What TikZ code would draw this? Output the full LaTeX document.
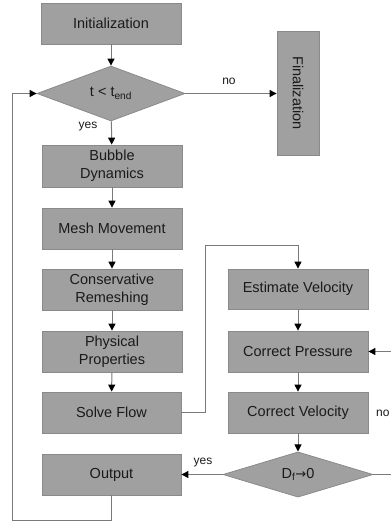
\documentclass[tikz,border=0pt]{standalone}
\usepackage{fontspec}
\setmainfont{Liberation Sans}
\newfontfamily\symf{DejaVu Sans}
\usetikzlibrary{shapes.geometric,arrows.meta}
\definecolor{boxfill}{HTML}{A0A0A0}
\definecolor{boxline}{HTML}{8A8A8A}
\definecolor{conn}{HTML}{7A7A7A}
\definecolor{txt}{HTML}{1A1A1A}
\tikzset{
  every node/.style={text=txt},
  stepbox/.style={draw=boxline, line width=0.8pt, fill=boxfill, rectangle, inner sep=0pt,
    minimum width=140pt, minimum height=41pt, align=center,
    font=\fontsize{14.5}{18}\selectfont},
  decbox/.style={draw=boxline, line width=0.8pt, fill=boxfill, diamond, inner sep=0pt,
    align=center, font=\fontsize{14.5}{18}\selectfont},
  conn/.style={draw=conn, line width=1pt},
  arr/.style={conn, -{Triangle[length=7pt,width=7pt,color=black]}},
  lbl/.style={font=\fontsize{12}{14}\selectfont},
}
\begin{document}
\begin{tikzpicture}[x=1pt,y=-1pt]
\clip (0,0) rectangle (391,523);
% left column
\node[stepbox] (init) at (111,23.5) {Initialization};
\node[decbox, minimum width=148pt, minimum height=55pt] (dec1) at (111,93.5) {t < t\textsubscript{end}};
\node[stepbox, minimum width=42pt, minimum height=124pt] (final) at (298,93) {};
\node[rotate=-90, font=\fontsize{14.5}{18}\selectfont] (finaltxt) at (final.center) {Finalization};
\node[stepbox, minimum height=42pt] (bubble) at (112,166) {Bubble\\Dynamics};
\node[stepbox] (mesh) at (112,228.5) {Mesh Movement};
\node[stepbox] (cons) at (112,289.5) {Conservative\\Remeshing};
\node[stepbox] (phys) at (112,351.5) {Physical\\Properties};
\node[stepbox, minimum width=139pt] (solve) at (111.5,412.5) {Solve Flow};
\node[stepbox, minimum width=139pt] (output) at (111.5,474.5) {Output};
% right column
\node[stepbox, minimum height=40pt] (est) at (298,289) {Estimate Velocity};
\node[stepbox] (corrp) at (298,351.5) {Correct Pressure};
\node[stepbox] (corrv) at (298,412.5) {Correct Velocity};
\node[decbox, minimum width=150pt, minimum height=39pt] (dec2) at (298,474.5) {D\textsubscript{f}{\symf\fontsize{13}{15}\selectfont →}0};
% connectors
\draw[arr] (init) -- (dec1);
\draw[arr] (dec1.east) -- (final.west |- dec1.east);
\node[lbl] (no1) at (229,81) {no};
\draw[arr] (dec1) -- (bubble);
\node[lbl] (yes1) at (88,127) {yes};
\draw[arr] (bubble) -- (mesh);
\draw[arr] (mesh) -- (cons);
\draw[arr] (cons) -- (phys);
\draw[arr] (phys) -- (solve);
\coordinate (s1) at (205,412.5);
\coordinate (s2) at (205,245);
\draw[arr] (solve.east) -- (s1) -- (s2) -- (s2 -| est.north) -- (est.north);
\draw[arr] (est) -- (corrp);
\draw[arr] (corrp) -- (corrv);
\draw[arr] (corrv) -- (dec2);
\draw[arr] (dec2.west) -- (output.east);
\node[lbl] (yes2) at (203,463) {yes};
\coordinate (n1) at (396,474.5);
\coordinate (n2) at (396,351.5);
\draw[arr] (dec2.east) -- (n1) -- (n2) -- (corrp.east);
\node[lbl, anchor=west, inner sep=0pt] (no2) at (376,413) {no};
\coordinate (o1) at (111.5,520);
\coordinate (o2) at (12,520);
\coordinate (o3) at (12,93.5);
\draw[arr] (output.south) -- (o1) -- (o2) -- (o3) -- (dec1.west);
\end{tikzpicture}
\end{document}
